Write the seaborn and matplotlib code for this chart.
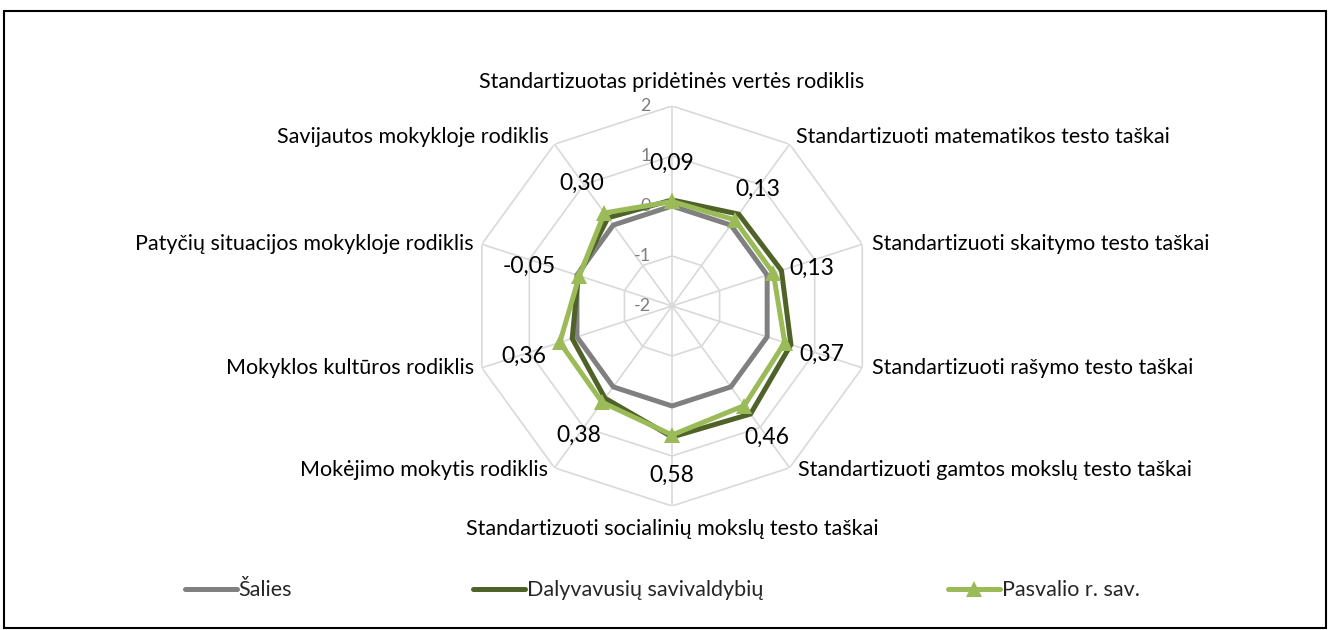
import numpy as np
import pandas as pd
import matplotlib
matplotlib.use('Agg')
import matplotlib.pyplot as plt
import seaborn as sns
from matplotlib.lines import Line2D
from matplotlib.patches import Rectangle

# Kategorijos (pagal laikrodžio rodyklę nuo viršaus)
categories = [
    'Standartizuotas pridėtinės vertės rodiklis',
    'Standartizuoti matematikos testo taškai',
    'Standartizuoti skaitymo testo taškai',
    'Standartizuoti rašymo testo taškai',
    'Standartizuoti gamtos mokslų testo taškai',
    'Standartizuoti socialinių mokslų testo taškai',
    'Mokėjimo mokytis rodiklis',
    'Mokyklos kultūros rodiklis',
    'Patyčių situacijos mokykloje rodiklis',
    'Savijautos mokykloje rodiklis',
]
salies = [0, 0, 0, 0, 0, 0, 0, 0, 0, 0]
dalyvavusiu = [0.12, 0.27, 0.30, 0.50, 0.67, 0.62, 0.28, 0.10, -0.03, 0.18]
pasvalio = [0.09, 0.13, 0.13, 0.37, 0.46, 0.58, 0.38, 0.36, -0.05, 0.30]
r_ticks = [-2, -1, 0, 1, 2]
series_names = ['Šalies', 'Dalyvavusių savivaldybių', 'Pasvalio r. sav.']

sns.set_style('white')
plt.rcParams['font.family'] = ['Lato', 'DejaVu Sans']

colors = {'Šalies': '#808080', 'Dalyvavusių savivaldybių': '#4F6228', 'Pasvalio r. sav.': '#9BBB59'}
grid_color = '#D9D9D9'

n = len(categories)
theta = np.linspace(0, 2 * np.pi, n, endpoint=False)
theta_closed = np.append(theta, theta[0] + 2 * np.pi)

fig = plt.figure(figsize=(13.3, 6.3), dpi=100)
ax = fig.add_axes([0.3549, 0.1968, 0.3008, 0.635], projection='polar')
ax.set_theta_zero_location('N')
ax.set_theta_direction(-1)
ax.set_ylim(-2, 2)
ax.grid(False)
ax.spines['polar'].set_visible(False)
ax.set_xticks([])
ax.set_yticks([])

# daugiakampis tinklelis
for t in r_ticks[1:]:
    ax.plot(theta_closed, [t] * (n + 1), color=grid_color, lw=1.2, zorder=1)
for th in theta:
    ax.plot([th, th], [-2, 2], color=grid_color, lw=1.2, zorder=1)

# ašies žymės
for t in r_ticks:
    ax.annotate(str(t), xy=(0, t), xytext=(-21, 0), textcoords='offset pixels',
                ha='right', va='center', fontsize=13, color='#7F7F7F', zorder=2)

# duomenų serijos
rows = []
for name, vals in zip(series_names, [salies, dalyvavusiu, pasvalio]):
    vals_closed = list(vals) + [vals[0]]
    for th, v in zip(theta_closed, vals_closed):
        rows.append({'theta': th, 'value': v, 'series': name})
df = pd.DataFrame(rows)

for name in series_names:
    sub = df[df['series'] == name]
    mk = '^' if name == 'Pasvalio r. sav.' else None
    sns.lineplot(data=sub, x='theta', y='value', ax=ax, sort=False, color=colors[name],
                 lw=3.6, marker=mk, markersize=12, markeredgewidth=0, legend=False, zorder=3)
ax.set_xlabel('')
ax.set_ylabel('')
ax.set_ylim(-2, 2)

# kategorijų pavadinimai
cat_offsets = [(0, 24), (6, 7), (10, 0), (10, 0), (8, -2), (0, -23), (-6, -2), (-8, 0), (-8, 0), (-6, 7)]
for th, lab, off in zip(theta, categories, cat_offsets):
    s = np.sin(th)
    ha = 'center' if abs(s) < 0.1 else ('left' if s > 0 else 'right')
    ax.annotate(lab, xy=(th, 2), xytext=off, textcoords='offset pixels',
                ha=ha, va='center', fontsize=15.5, color='black', annotation_clip=False)

# reikšmių žymės
val_offsets = [(0, 38), (23, 30), (38, 5), (37, -12), (23, -32), (0, -40), (-23, -33), (-36, -14), (-50, 10), (-23, 30)]
for th, v, off in zip(theta, pasvalio, val_offsets):
    txt = f'{v:.2f}'.replace('.', ',')
    ax.annotate(txt, xy=(th, v), xytext=off, textcoords='offset pixels',
                ha='center', va='center', fontsize=16.5, color='black', annotation_clip=False, zorder=4)

# legenda
legend_x = [0.139, 0.356, 0.713]
for name, lx in zip(series_names, legend_x):
    mk = '^' if name == 'Pasvalio r. sav.' else None
    h = Line2D([], [], color=colors[name], lw=3.6, marker=mk, markersize=12, markeredgewidth=0)
    fig.legend([h], [name], loc='center left', bbox_to_anchor=(lx, 0.063), frameon=False,
               fontsize=15.5, handlelength=2.4, handletextpad=0.1, borderpad=0, borderaxespad=0)

fig.patches.append(Rectangle((0.003, 0.003), 0.994, 0.98, transform=fig.transFigure,
                             fill=False, edgecolor='black', lw=1.5))

fig.savefig('out.png', dpi=100)
